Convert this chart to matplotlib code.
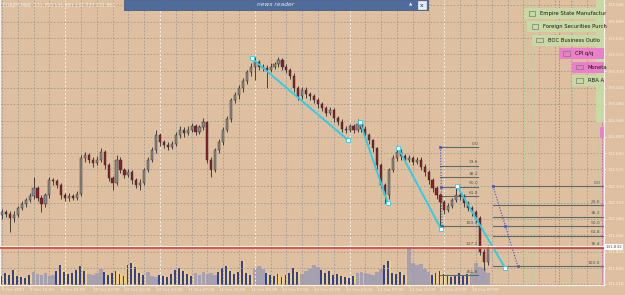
import matplotlib
matplotlib.use("Agg")
import matplotlib.pyplot as plt
import matplotlib.transforms as mtransforms
from matplotlib.patches import Rectangle
import numpy as np

W, H = 625, 295

symbol_info = "EURJPY,M60  131.793 131.881 131.737 131.861"

# hourly bars, first bar = 9 Oct 2017 08:00
first_open = 132.12
closes = [
    132.14, 132.13, 132.09, 132.12, 132.18, 132.21, 132.25, 132.28, 132.35, 132.27,
    132.21, 132.29, 132.42, 132.41, 132.38, 132.29, 132.27, 132.28, 132.27, 132.30,
    132.61, 132.64, 132.60, 132.57, 132.60, 132.67, 132.55, 132.44, 132.40, 132.60,
    132.51, 132.47, 132.49, 132.42, 132.38, 132.40, 132.51, 132.60, 132.68, 132.81,
    132.75, 132.73, 132.71, 132.74, 132.81, 132.86, 132.83, 132.86, 132.89, 132.84,
    132.88, 132.93, 132.60, 132.51, 132.68, 132.75, 132.86, 132.95, 133.12, 133.16,
    133.22, 133.28, 133.36, 133.41, 133.45, 133.41, 133.40, 133.38, 133.41, 133.43,
    133.47, 133.41, 133.38, 133.33, 133.22, 133.15, 133.21, 133.17, 133.15, 133.12,
    133.08, 133.05, 133.01, 133.03, 132.96, 132.93, 132.87, 132.86, 132.89, 132.86,
    132.91, 132.87, 132.81, 132.77, 132.70, 132.55, 132.38, 132.29, 132.51, 132.61,
    132.67, 132.63, 132.60, 132.61, 132.58, 132.60, 132.54, 132.49, 132.42, 132.35,
    132.29, 132.23, 132.16, 132.20, 132.25, 132.29, 132.28, 132.22, 132.18, 132.14,
    132.09, 131.80, 131.71, 131.83,
]
highs = [
    132.17, 132.16, 132.15, 132.15, 132.20, 132.24, 132.27, 132.31, 132.45, 132.37,
    132.29, 132.31, 132.45, 132.44, 132.43, 132.40, 132.31, 132.31, 132.30, 132.33,
    132.64, 132.67, 132.66, 132.62, 132.63, 132.70, 132.68, 132.57, 132.46, 132.64,
    132.62, 132.53, 132.52, 132.51, 132.44, 132.43, 132.53, 132.62, 132.71, 132.86,
    132.83, 132.77, 132.75, 132.76, 132.84, 132.89, 132.88, 132.89, 132.92, 132.91,
    132.90, 132.96, 132.94, 132.62, 132.70, 132.78, 132.88, 132.98, 133.14, 133.19,
    133.25, 133.31, 133.38, 133.44, 133.49, 133.47, 133.43, 133.42, 133.44, 133.45,
    133.49, 133.48, 133.43, 133.40, 133.35, 133.24, 133.23, 133.23, 133.19, 133.17,
    133.14, 133.10, 133.07, 133.06, 133.05, 132.98, 132.95, 132.89, 132.91, 132.91,
    132.95, 132.93, 132.89, 132.83, 132.78, 132.71, 132.57, 132.40, 132.53, 132.64,
    132.72, 132.69, 132.65, 132.64, 132.63, 132.62, 132.62, 132.56, 132.51, 132.44,
    132.37, 132.31, 132.25, 132.22, 132.27, 132.38, 132.32, 132.30, 132.24, 132.20,
    132.16, 132.11, 131.82, 131.86,
]
lows = [
    132.08, 132.10, 131.97, 132.06, 132.10, 132.16, 132.19, 132.23, 132.26, 132.24,
    132.14, 132.19, 132.27, 132.38, 132.35, 132.26, 132.24, 132.24, 132.25, 132.25,
    132.28, 132.58, 132.57, 132.54, 132.55, 132.58, 132.52, 132.41, 132.34, 132.38,
    132.48, 132.44, 132.45, 132.39, 132.35, 132.34, 132.38, 132.49, 132.58, 132.66,
    132.72, 132.70, 132.68, 132.69, 132.72, 132.79, 132.80, 132.81, 132.84, 132.81,
    132.82, 132.86, 132.57, 132.45, 132.49, 132.66, 132.73, 132.84, 132.93, 133.09,
    133.13, 133.19, 133.26, 133.33, 133.29, 133.38, 133.37, 133.22, 133.36, 133.39,
    133.41, 133.38, 133.35, 133.30, 133.19, 133.12, 133.13, 133.14, 133.12, 133.09,
    133.05, 133.02, 132.98, 132.99, 132.93, 132.90, 132.84, 132.83, 132.84, 132.83,
    132.84, 132.84, 132.78, 132.74, 132.67, 132.52, 132.35, 132.22, 132.26, 132.49,
    132.59, 132.60, 132.57, 132.58, 132.55, 132.56, 132.51, 132.46, 132.39, 132.32,
    132.26, 132.00, 132.13, 132.14, 132.18, 132.23, 132.25, 132.19, 132.15, 132.11,
    132.06, 131.77, 131.64, 131.68,
]
volumes = [
    900, 1200, 1000, 1500, 900, 800, 700, 1000, 1300, 1100,
    1000, 1200, 900, 1000, 1400, 2000, 1300, 1100, 1200, 1500,
    1900, 1400, 1100, 1000, 1200, 1600, 1300, 1000, 1200, 1400,
    1100, 900, 2000, 2200, 1800, 1200, 1000, 1300, 900, 800,
    1000, 900, 800, 1100, 1500, 1700, 1400, 1100, 900, 1200,
    1000, 1300, 1100, 1200, 1000, 1300, 1700, 1900, 1400, 1100,
    1300, 2400, 1200, 1000, 1700, 1900, 1600, 1200, 1000, 900,
    1100, 800, 1000, 1200, 1700, 1300, 1100, 1400, 1600, 2000,
    1800, 1500, 1200, 1400, 1000, 1100, 900, 800, 700, 900,
    1200, 1300, 1200, 1100, 1000, 1300, 1600, 2000, 2400, 1200,
    1100, 1300, 1000, 3700, 2200, 2000, 2100, 1600, 1300, 1000,
    1200, 1400, 1100, 900, 800, 1000, 1200, 900, 1100, 1300,
    2200, 1800, 1700, 1200,
]
gray_volume_ranges = [(8, 13), (22, 25), (37, 39), (49, 54), (64, 66),
                      (76, 80), (90, 96), (103, 108), (119, 123)]

date_ticks = [0, 7, 15, 23, 31, 39, 47, 55, 63, 71, 79, 87, 95, 103, 111, 119]
date_labels = ["9 Oct 2017", "9 Oct 15:00", "9 Oct 23:00", "10 Oct 07:00",
               "10 Oct 15:00", "10 Oct 23:00", "11 Oct 07:00", "11 Oct 15:00",
               "11 Oct 23:00", "12 Oct 07:00", "12 Oct 15:00", "12 Oct 23:00",
               "13 Oct 07:00", "13 Oct 15:00", "13 Oct 23:00", "16 Oct 07:00"]
day_separators = [16, 40, 64, 88, 112]

price_ticks = [133.946, 133.800, 133.655, 133.515, 133.370, 133.225, 133.085,
               132.940, 132.800, 132.655, 132.515, 132.370, 132.225, 132.085,
               131.940, 131.800, 131.655, 131.518]
bid = 131.832
ask = 131.852

# fibonacci retracements: (x0, x1) in bars, high and low price
fib1_x = (111.0, 120.6)
fib1_high, fib1_low = 132.71, 132.02
fib1_levels = [0.0, 23.6, 38.2, 50.0, 61.8, 100.0, 127.2, 161.8]
fib2_x = (124.3, 160.0)
fib2_anchor_end = 130.6
fib2_high, fib2_low = 132.37, 131.67
fib2_levels = [0.0, 23.6, 38.2, 50.0, 61.8, 76.4, 100.0]

trend_lines = [
    ((63.3, 133.48), (87.6, 132.77)),
    ((90.6, 132.93), (97.7, 132.22)),
    ((100.3, 132.70), (111.1, 132.00)),
    ((115.2, 132.37), (127.3, 131.66)),
]

# economic calendar events (labels as far as they show before the price scale)
events = [
    ("Empire State Manufactur", 132.2, "usd"),
    ("Foreign Securities Purch", 133.0, "usd"),
    ("BOC Business Outlo", 134.2, "usd"),
    ("CPI q/q", 141.0, "high"),
    ("Moneta", 144.3, "high"),
    ("RBA A", 144.3, "usd"),
]
far_events = [(150.9, "usd"), (151.9, "high")]

BG = "#DEBF9F"
GRID = "#A09A94"
LIGHT = "#F8F2EA"
box_colors = {"usd": "#C9D9A5", "high": "#EC7FCB"}
line_colors = {"usd": "#A9D79A", "high": "#E060C2"}

fig = plt.figure(figsize=(W / 100, H / 100), dpi=100)
fig.patch.set_facecolor(BG)
rect = [0, 10 / H, 604 / W, 285 / H]

# volume layer underneath
axv = fig.add_axes(rect)
axv.set_facecolor(BG)
axv.set_xlim(-0.5, 152.4)
axv.set_ylim(0, 28500)
axv.axis("off")
gray_idx = set()
for a, b in gray_volume_ranges:
    gray_idx.update(range(a, b + 1))
for i, v in enumerate(volumes):
    if i in gray_idx:
        axv.bar(i, v, width=0.95, color="#A7A0AF", linewidth=0)
    else:
        axv.bar(i - 0.24, v, width=0.46, color="#33409B", linewidth=0)
        axv.bar(i + 0.25, v, width=0.5, color="#F0D27E", linewidth=0)

ax = fig.add_axes(rect)
ax.patch.set_visible(False)
ax.set_xlim(-0.5, 152.4)
ax.set_ylim(131.509, 133.989)

# grid
for p in price_ticks:
    ax.axhline(p, color=GRID, lw=0.6, ls=(0, (2, 2)), zorder=1)
for gx in range(0, 153, 4):
    if gx in day_separators:
        continue
    ax.axvline(gx, color=GRID, lw=0.6, ls=(0, (2, 2)), zorder=1)
for gx in day_separators:
    ax.axvline(gx, color=LIGHT, lw=0.7, ls=(0, (2, 2)), zorder=1)

# event lines and boxes
blend = mtransforms.blended_transform_factory(ax.transData, ax.transAxes)
for x, kind in far_events:
    ax.axvline(x, color=line_colors[kind], lw=0.7, ls=(0, (1.5, 1.5)), zorder=1)
ax.add_patch(Rectangle((150.4, 1 - 122 / 285), 5, 122 / 285, transform=blend,
                       facecolor=box_colors["usd"], edgecolor="none", zorder=2))
ax.add_patch(Rectangle((151.4, 1 - 138 / 285), 5, 11 / 285, transform=blend,
                       facecolor=box_colors["high"], edgecolor="none", zorder=2))
for k, (name, x, kind) in enumerate(events):
    ax.axvline(x, color=line_colors[kind], lw=0.7, ls=(0, (1.5, 1.5)), zorder=1)
    top = 8 + 13.4 * k
    y0 = 1 - (top + 11) / 285
    ax.add_patch(Rectangle((x, y0), 40, 11 / 285, transform=blend,
                           facecolor=box_colors[kind], edgecolor="none", zorder=6))
    ax.add_patch(Rectangle((x + 1.1, y0 + 3.5 / 285), 1.6, 4.5 / 285, transform=blend,
                           facecolor="none", edgecolor="#7A7A7A", lw=0.5, zorder=7))
    ax.text(x + 4.0, y0 + 5.5 / 285, name, transform=blend, fontsize=3.8,
            color="#151515", va="center", ha="left", zorder=7)

# fibonacci levels
def draw_fib(x0, x1, hi, lo, levels, label_x, label_tr):
    for lvl in levels:
        p = hi - (hi - lo) * lvl / 100
        ax.plot([x0, x1], [p, p], color="#5E6B67", lw=0.8, zorder=3)
        ax.text(label_x, p + 0.012, f"{lvl:.1f}", transform=label_tr, fontsize=3.2,
                color="#4E5A56", ha="right", va="bottom", zorder=3)

draw_fib(fib1_x[0], fib1_x[1], fib1_high, fib1_low, fib1_levels, fib1_x[1], ax.transData)
blend_y = mtransforms.blended_transform_factory(ax.transAxes, ax.transData)
draw_fib(fib2_x[0], fib2_x[1], fib2_high, fib2_low, fib2_levels, 0.994, blend_y)

dot_style = dict(color="#3A50C8", lw=0.8, ls=(0, (1, 1.5)), zorder=5)
ax.plot([fib1_x[0], fib1_x[0] + 0.4], [fib1_high, fib1_low], **dot_style)
ax.plot([fib2_x[0], fib2_anchor_end], [fib2_high, fib2_low], **dot_style)
for xs, ys in [((fib1_x[0], fib1_x[0] + 0.4), (fib1_high, fib1_low)),
               ((fib2_x[0], fib2_anchor_end), (fib2_high, fib2_low))]:
    ax.plot([xs[0], np.mean(xs), xs[1]], [ys[0], np.mean(ys), ys[1]], ls="none",
            marker="s", ms=2, mfc="none", mec="#3A50C8", mew=0.5, zorder=5)

# candles
n = len(closes)
x = np.arange(n)
c = np.array(closes)
o = np.array([first_open] + closes[:-1])
up = c >= o
ax.vlines(x, lows, highs, color="#2B2B2B", lw=0.6, zorder=4)
body = np.maximum(np.abs(c - o), 0.004)
ax.bar(x, body, bottom=np.minimum(o, c), width=0.55,
       color=np.where(up, "#8A8A8A", "#8E1E28"), edgecolor="#2B2B2B", lw=0.3, zorder=4)

# cyan trend lines
for (xa, ya), (xb, yb) in trend_lines:
    ax.plot([xa, xb], [ya, yb], color="#22CFEF", lw=1.3, zorder=6)
    ax.plot([xa, xb], [ya, yb], ls="none", marker="s", ms=2.2, mfc="white",
            mec="#22CFEF", mew=0.6, zorder=7)

# ask / bid lines
ax.axhline(ask, color="white", lw=0.8, zorder=6)
ax.axhline(bid, color="#E0403C", lw=1.2, zorder=6)
ax.text(1.002, bid + 0.004, f"{bid:.3f}", transform=blend_y, fontsize=3, color="#505050",
        ha="left", va="center", clip_on=False, zorder=8,
        bbox=dict(boxstyle="square,pad=0.25", facecolor="white", edgecolor="none"))

# axes styling
ax.yaxis.tick_right()
ax.set_yticks(price_ticks)
ax.set_yticklabels([f"{p:.3f}" for p in price_ticks])
ax.set_xticks(date_ticks)
ax.set_xticklabels(date_labels, ha="left")
ax.tick_params(axis="y", labelsize=3, colors=LIGHT, length=1.5, width=0.5, pad=1)
ax.tick_params(axis="x", labelsize=3, colors=LIGHT, length=1.5, width=0.5, pad=0.8)
ax.spines["top"].set_visible(False)
for s in ["left", "right", "bottom"]:
    ax.spines[s].set_color(LIGHT)
    ax.spines[s].set_linewidth(0.8)

fig.text(3 / W, 1 - 5 / H, symbol_info, fontsize=3.3, color=LIGHT, ha="left", va="center")

# news reader window strip
fig.patches.append(Rectangle((124 / W, 1 - 10 / H), 304 / W, 10 / H, transform=fig.transFigure,
                             facecolor="#4F6B9B", edgecolor="#3A5280", lw=0.5, zorder=10))
fig.text(276 / W, 1 - 5 / H, "news reader", fontsize=4.3, style="italic", color="#E4E8F0",
         ha="center", va="center", zorder=11)
fig.text(411 / W, 1 - 5 / H, "\u25b2", fontsize=3, color="white", ha="center", va="center", zorder=11)
fig.patches.append(Rectangle((418 / W, 1 - 9 / H), 8 / W, 7.5 / H, transform=fig.transFigure,
                             facecolor="#E8ECF4", edgecolor="white", lw=0.4, zorder=11))
fig.text(422 / W, 1 - 5.3 / H, "x", fontsize=4, color="#4F6B9B", ha="center", va="center",
         zorder=12, fontweight="bold")

fig.savefig("out.png", dpi=100, facecolor=BG)
